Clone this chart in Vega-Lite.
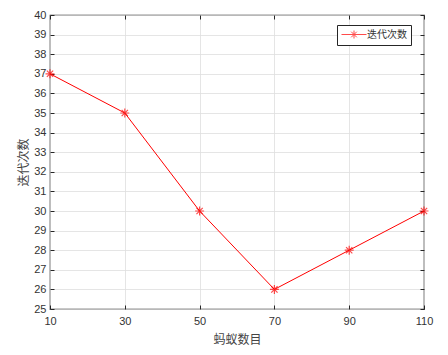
{
  "$schema": "https://vega.github.io/schema/vega-lite/v6.json",
  "width": 374,
  "height": 294,
  "autosize": {"type": "none"},
  "padding": {"left": 50, "top": 15, "right": 24, "bottom": 46},
  "background": "white",
  "data": {"values": [
    {"ants": 10, "iter": 37, "series": "迭代次数"},
    {"ants": 30, "iter": 35, "series": "迭代次数"},
    {"ants": 50, "iter": 30, "series": "迭代次数"},
    {"ants": 70, "iter": 26, "series": "迭代次数"},
    {"ants": 90, "iter": 28, "series": "迭代次数"},
    {"ants": 110, "iter": 30, "series": "迭代次数"}
  ]},
  "config": {
    "view": {"stroke": "#262626", "strokeWidth": 1.2},
    "axis": {
      "domain": false,
      "tickColor": "#262626",
      "tickSize": -4,
      "labelFont": "Liberation Sans",
      "labelFontSize": 11,
      "labelColor": "#333333",
      "labelFlush": false,
      "gridColor": "#dedede",
      "gridWidth": 0.8,
      "titleFont": "Noto Sans CJK SC",
      "titleFontSize": 12,
      "titleFontWeight": "normal",
      "titleColor": "#444444"
    }
  },
  "resolve": {"axis": {"x": "independent", "y": "independent"}},
  "layer": [
    {
      "mark": {"type": "line", "color": "#ff0000", "strokeWidth": 1},
      "encoding": {
        "x": {"field": "ants", "type": "quantitative", "scale": {"domain": [10, 110], "nice": false},
              "axis": {"values": [10, 30, 50, 70, 90, 110], "title": "蚂蚁数目", "labelPadding": 10, "titlePadding": 8}},
        "y": {"field": "iter", "type": "quantitative", "scale": {"domain": [25, 40], "nice": false, "zero": false},
              "axis": {"values": [25,26,27,28,29,30,31,32,33,34,35,36,37,38,39,40], "title": "迭代次数", "labelPadding": 8, "titlePadding": 3}}
      }
    },
    {
      "mark": {"type": "point", "filled": false, "strokeWidth": 1.2, "size": 81,
               "shape": "M-1,0L1,0M0,-1L0,1M-0.7,-0.7L0.7,0.7M-0.7,0.7L0.7,-0.7"},
      "encoding": {
        "x": {"field": "ants", "type": "quantitative", "scale": {"domain": [10, 110], "nice": false},
              "axis": {"orient": "top", "values": [10, 30, 50, 70, 90, 110], "labels": false, "grid": false, "title": null}},
        "y": {"field": "iter", "type": "quantitative", "scale": {"domain": [25, 40], "nice": false, "zero": false},
              "axis": {"orient": "right", "values": [25,26,27,28,29,30,31,32,33,34,35,36,37,38,39,40], "labels": false, "grid": false, "title": null}},
        "color": {"field": "series", "type": "nominal", "scale": {"range": ["#ff0000"]},
                  "legend": {
                    "title": null,
                    "orient": "none",
                    "legendX": 287,
                    "legendY": 10,
                    "strokeColor": "#262626",
                    "fillColor": "white",
                    "padding": 4,
                    "symbolType": "M-1,0L4,0M1.5,-0.8L1.5,0.8M0.94,-0.56L2.06,0.56M0.94,0.56L2.06,-0.56",
                    "symbolSize": 100,
                    "symbolStrokeWidth": 1,
                    "labelOffset": 15,
                    "labelFont": "Noto Sans CJK SC",
                    "labelFontSize": 10,
                    "labelColor": "#333333"
                  }}
      }
    }
  ]
}
